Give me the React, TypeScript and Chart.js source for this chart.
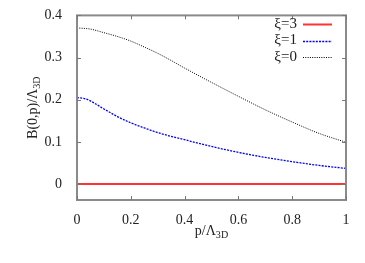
import React, { useEffect, useRef } from "react";
import { Chart, registerables } from "chart.js";

Chart.register(...registerables);

const pValues = [0, 0.025, 0.05, 0.1, 0.15, 0.2, 0.25, 0.3, 0.35, 0.4, 0.5, 0.6, 0.7, 0.8, 0.9, 1.0];
const xi3Values = [0, 0, 0, 0, 0, 0, 0, 0, 0, 0, 0, 0, 0, 0, 0, 0];
const xi1Values = [0.205, 0.203, 0.197, 0.178, 0.16, 0.145, 0.133, 0.122, 0.113, 0.105, 0.089, 0.075, 0.063, 0.053, 0.044, 0.037];
const xi0Values = [0.37, 0.3693, 0.3675, 0.359, 0.35, 0.339, 0.325, 0.31, 0.293, 0.275, 0.241, 0.208, 0.176, 0.147, 0.12, 0.099];
const xTicks = [0, 0.2, 0.4, 0.6, 0.8, 1];
const yTicks = [0, 0.1, 0.2, 0.3, 0.4];
const seriesLabels = ["ξ=3", "ξ=1", "ξ=0"];

const FONT = "'Liberation Serif', 'DejaVu Serif', serif";

function drawSubText(ctx: CanvasRenderingContext2D, parts: [string, boolean][], x: number, y: number, size: number) {
  let total = 0;
  const widths = parts.map(([t, sub]) => {
    ctx.font = `${sub ? size * 0.72 : size}px ${FONT}`;
    const w = ctx.measureText(t).width;
    total += w;
    return w;
  });
  let cx = x - total / 2;
  parts.forEach(([t, sub], i) => {
    ctx.font = `${sub ? size * 0.72 : size}px ${FONT}`;
    ctx.fillText(t, cx, sub ? y + size * 0.3 : y);
    cx += widths[i];
  });
}

const framePlugin = {
  id: "framePlugin",
  afterDraw(chart: any) {
    const ctx: CanvasRenderingContext2D = chart.ctx;
    const a = chart.chartArea;
    const xs = chart.scales.x;
    const ys = chart.scales.y;
    ctx.save();
    ctx.strokeStyle = "#8a8a8a";
    ctx.lineWidth = 2;
    ctx.strokeRect(a.left, a.top, a.right - a.left, a.bottom - a.top);
    ctx.lineWidth = 1;
    ctx.strokeStyle = "#777";
    const tl = 4;
    xTicks.forEach((v) => {
      const px = Math.round(xs.getPixelForValue(v)) + 0.5;
      ctx.beginPath();
      ctx.moveTo(px, a.bottom);
      ctx.lineTo(px, a.bottom - tl);
      ctx.moveTo(px, a.top);
      ctx.lineTo(px, a.top + tl);
      ctx.stroke();
    });
    yTicks.forEach((v) => {
      const py = Math.round(ys.getPixelForValue(v)) + 0.5;
      ctx.beginPath();
      ctx.moveTo(a.left, py);
      ctx.lineTo(a.left + tl, py);
      ctx.moveTo(a.right, py);
      ctx.lineTo(a.right - tl, py);
      ctx.stroke();
    });
    ctx.fillStyle = "#222";
    ctx.textBaseline = "middle";
    ctx.textAlign = "left";
    drawSubText(ctx, [["p/Λ", false], ["3D", true]], (a.left + a.right) / 2, 231, 14);
    ctx.save();
    ctx.translate(33, (a.top + a.bottom) / 2);
    ctx.rotate(-Math.PI / 2);
    drawSubText(ctx, [["B(0,p)/Λ", false], ["3D", true]], 0, 0, 14);
    ctx.restore();
    const ds = chart.data.datasets;
    ctx.font = `15px ${FONT}`;
    ctx.textAlign = "right";
    ds.forEach((d: any, i: number) => {
      const y = 24 + i * 16.5;
      ctx.fillStyle = "#222";
      ctx.fillText(seriesLabels[i], 297, y);
      ctx.strokeStyle = d.borderColor;
      ctx.lineWidth = d.borderWidth;
      ctx.setLineDash(d.borderDash || []);
      ctx.beginPath();
      ctx.moveTo(303, Math.round(y) + 0.5);
      ctx.lineTo(332, Math.round(y) + 0.5);
      ctx.stroke();
      ctx.setLineDash([]);
    });
    ctx.restore();
  },
};

export default function App() {
  const ref = useRef<HTMLCanvasElement>(null);
  useEffect(() => {
    document.body.style.margin = "0";
    const toPts = (arr: number[]) => arr.map((y, i) => ({ x: pValues[i], y }));
    const chart = new Chart(ref.current!, {
      type: "line",
      data: {
        datasets: [
          { label: seriesLabels[0], data: toPts(xi3Values), borderColor: "#ff3333", borderWidth: 2, pointRadius: 0 },
          { label: seriesLabels[1], data: toPts(xi1Values), borderColor: "#0000ff", borderWidth: 1.3, borderDash: [2, 1.2], pointRadius: 0, cubicInterpolationMode: "monotone" },
          { label: seriesLabels[2], data: toPts(xi0Values), borderColor: "#000000", borderWidth: 1, borderDash: [1, 1.3], pointRadius: 0, cubicInterpolationMode: "monotone" },
        ],
      },
      options: {
        animation: false,
        responsive: false,
        layout: { padding: { left: 0, top: 13, right: 19, bottom: 0 } },
        plugins: { legend: { display: false }, tooltip: { enabled: false } },
        scales: {
          x: {
            type: "linear",
            min: 0,
            max: 1,
            grid: { display: false },
            border: { display: false },
            afterBuildTicks: (s: any) => { s.ticks = xTicks.map((v) => ({ value: v })); },
            afterFit: (s: any) => { s.height = 63; },
            ticks: { padding: 4, color: "#222", font: { family: FONT, size: 14 }, maxRotation: 0, callback: (v: any) => String(Math.round(Number(v) * 10) / 10) },
          },
          y: {
            type: "linear",
            min: -0.038,
            max: 0.4,
            grid: { display: false },
            border: { display: false },
            afterBuildTicks: (s: any) => { s.ticks = yTicks.map((v) => ({ value: v })); },
            afterFit: (s: any) => { s.width = 77; },
            ticks: { padding: 7, color: "#222", font: { family: FONT, size: 14 }, callback: (v: any) => String(Math.round(Number(v) * 10) / 10) },
          },
        },
      },
      plugins: [framePlugin],
    } as any);
    return () => chart.destroy();
  }, []);
  return <canvas ref={ref} width={365} height={263} style={{ display: "block" }} />;
}
